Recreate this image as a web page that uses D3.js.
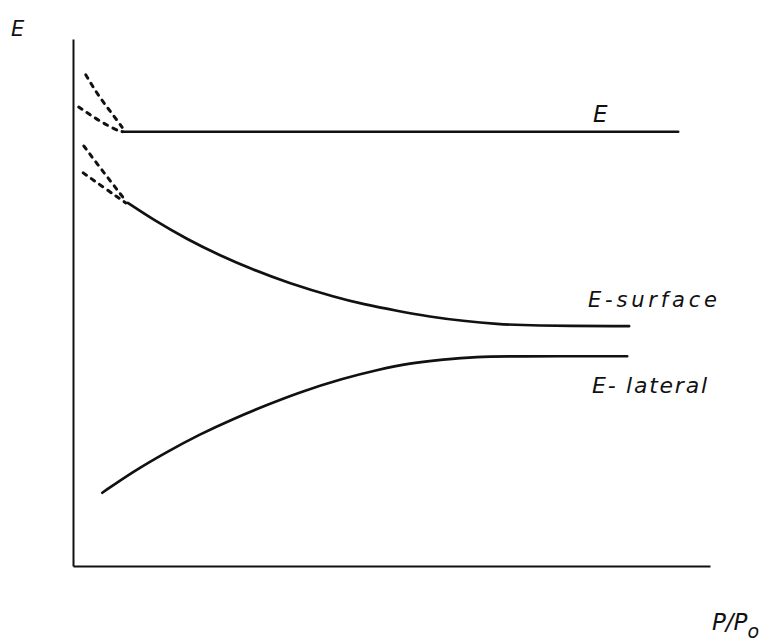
<!DOCTYPE html>
<html>
<head>
<meta charset="utf-8">
<script src="https://cdn.jsdelivr.net/npm/d3@7"></script>
<style>
  html, body { margin: 0; padding: 0; background: #fff; }
  svg { display: block; }
  .lbl { font-family: "DejaVu Sans", sans-serif; font-style: italic; fill: #111; }
</style>
</head>
<body>
<svg id="chart" width="768" height="641"></svg>
<script>
// Energy components versus relative pressure P/Po (arbitrary units, 0–10 on both axes)

// Total energy E: constant across the range
const totalE = [[0.78, 8.24], [9.50, 8.24]];

// Surface contribution: falls, then levels off
const surfaceE = [
  [0.86, 6.89], [1.26, 6.57], [1.79, 6.20], [2.31, 5.89], [2.83, 5.62],
  [3.36, 5.38], [4.14, 5.09], [4.55, 4.97], [5.09, 4.84], [5.60, 4.73],
  [6.12, 4.65], [6.66, 4.59], [7.17, 4.56], [8.73, 4.55]
];

// Lateral contribution: rises, then levels off
const lateralE = [
  [0.46, 1.39], [0.94, 1.79], [1.48, 2.17], [1.99, 2.50], [2.51, 2.79],
  [3.05, 3.06], [3.56, 3.30], [4.24, 3.56], [4.77, 3.72], [5.29, 3.85],
  [5.81, 3.92], [6.34, 3.97], [6.86, 3.98], [8.70, 3.98]
];

// Uncertain low-pressure extrapolations (dashed)
const totalExtrapUpper = [[0.20, 9.32], [0.41, 8.90], [0.63, 8.56], [0.78, 8.31]];
const totalExtrapLower = [[0.09, 8.71], [0.39, 8.46], [0.68, 8.27], [0.78, 8.24]];
const surfExtrapUpper  = [[0.17, 7.97], [0.38, 7.63], [0.61, 7.27], [0.82, 6.94]];
const surfExtrapLower  = [[0.16, 7.46], [0.52, 7.15], [0.83, 6.89]];

const xDomain = [0, 10];
const yDomain = [0, 10];

const svg = d3.select("#chart");
const x = d3.scaleLinear().domain(xDomain).range([73, 710]);
const y = d3.scaleLinear().domain(yDomain).range([566, 39]);

// Bare axes: no ticks, just the two frame lines
const xAxis = d3.axisBottom(x).ticks(0).tickSizeOuter(0);
const yAxis = d3.axisLeft(y).ticks(0).tickSizeOuter(0);
svg.append("g").attr("transform", `translate(0,${y(0)})`).call(xAxis)
  .call(g => g.select(".domain").attr("stroke", "#111").attr("stroke-width", 2));
svg.append("g").attr("transform", `translate(${x(0)},0)`).call(yAxis)
  .call(g => g.select(".domain").attr("stroke", "#111").attr("stroke-width", 2));

const smooth = d3.line().x(d => x(d[0])).y(d => y(d[1])).curve(d3.curveBasis);

function solid(data) {
  svg.append("path").datum(data).attr("d", smooth)
    .attr("fill", "none").attr("stroke", "#111")
    .attr("stroke-width", 2.7).attr("stroke-linecap", "round");
}
function dashed(data) {
  svg.append("path").datum(data).attr("d", smooth)
    .attr("fill", "none").attr("stroke", "#111")
    .attr("stroke-width", 3).attr("stroke-dasharray", "4,6")
    .attr("stroke-linecap", "round");
}

solid(totalE);
solid(surfaceE);
solid(lateralE);
[totalExtrapUpper, totalExtrapLower, surfExtrapUpper, surfExtrapLower].forEach(dashed);

// Labels
svg.append("text").attr("class", "lbl").attr("x", 11).attr("y", 36)
  .attr("font-size", 21).text("E");
svg.append("text").attr("class", "lbl").attr("x", 593).attr("y", 122)
  .attr("font-size", 23).text("E");
svg.append("text").attr("class", "lbl").attr("x", 588).attr("y", 307)
  .attr("font-size", 21).attr("textLength", 129).attr("lengthAdjust", "spacing")
  .text("E-surface");
svg.append("text").attr("class", "lbl").attr("x", 592).attr("y", 393)
  .attr("font-size", 22).attr("textLength", 115).attr("lengthAdjust", "spacing")
  .text("E- lateral");

const pl = svg.append("text").attr("class", "lbl").attr("x", 712).attr("y", 630)
  .attr("font-size", 23);
pl.append("tspan").text("P/P");
pl.append("tspan").attr("dy", 8).attr("font-size", 19).text("o");
</script>
</body>
</html>
